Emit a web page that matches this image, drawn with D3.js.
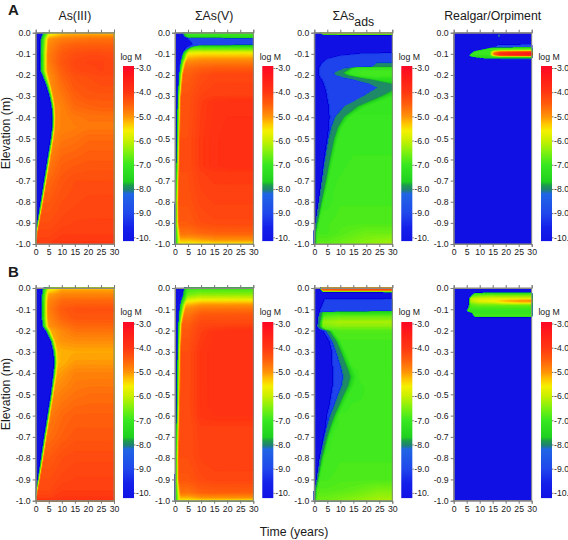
<!DOCTYPE html>
<html><head><meta charset="utf-8">
<script src="https://cdn.jsdelivr.net/npm/d3@7"></script>
<style>html,body{margin:0;padding:0;background:#fff}svg{display:block}
text{font-family:"Liberation Sans",Arial,sans-serif;fill:#1a1a1a}</style></head><body>
<svg id="c" width="568" height="540"></svg>
<script>
// Each row: [depth below surface (m), halo arrival (yr), front arrival (yr), ramp length (yr), log M at each entry of the panel's times]
const N = 60; // never reached in the 30-year window
const stdTimes = [5,10,15,20,25,30];
const a4Times = [5,14,15.5,18,30];
const a1Rows = [
[0,3,3,2.5,-6.2,-5.4,-5.3],[.01,2.6,2.6,2.5,-5.6,-5.2,-5.1],[.03,2.1,2.1,2.8,-5,-4.8,-4.75,-4.7],
[.06,2,2,2.8,-4.9,-4.6,-4.5],[.1,1.9,1.9,2.8,-4.8,-4.45,-4.3,-4.25,-4.25,-4.3],[.14,1.9,1.9,2.8,-4.8,-4.4,-4.2,-4.15,-4.15,-4.2],
[.18,2,2,2.6,-4.9,-4.5,-4.25,-4.2,-4.15,-4.2],[.21,3,3,2,-5,-4.55,-4.35,-4.3,-4.25],[.25,4.3,4.3,1.6,-5,-4.65,-4.4,-4.35,-4.3],
[.3,5.5,5.5,1.3,-5,-4.75,-4.5,-4.4],[.35,6.3,6.3,1.2,-5,-4.85,-4.6,-4.55,-4.5],[.4,6.6,6.6,1,-5,-4.85,-4.75,-4.7],
[.45,6.5,6.5,1,-5,-4.85,-4.8,-4.75],[.5,6,6,1,-5,-4.75,-4.7,-4.6],[.6,4.7,4.7,1,-4.8,-4.55,-4.5,-4.45],
[.7,3.4,3.4,1,-4.6,-4.4,-4.3],[.8,2.1,2.1,1,-4.45,-4.3,-4.25,-4.2],[.9,.8,.8,.8,-4.3,-4.2,-4.15],
[.95,.2,.2,.6,-4.2,-4.1],[1,0,0,.4,-4.1,-4]];
const a2Rows = [
[0,3,3,1.5,-7,-6.9],[.015,3.5,3.5,1.5,-7.1],[.021,4.5,4.5,1,-7.3],[.027,5,N,1,-8],[.055,7,N,1,-8],
[.062,6,9,1,-7.7],[.07,4.5,6,1.2,-7,-6.9],[.08,3.8,4.5,1.5,-6.5],[.09,3.2,3.5,1.8,-6,-5.9],[.1,3,3,2,-5.6,-5.5],
[.12,2.6,2.6,2.2,-5.2,-5.1],[.14,2.2,2.2,2,-4.9,-4.8],[.17,1.9,1.9,1.8,-4.6,-4.5,-4.45],[.2,1.6,1.6,1.6,-4.5,-4.3,-4.2],
[.3,1.1,1.1,1.4,-4.35,-4.15,-4.1],[.33,1,1,1.4,-4.35,-4.1,-3.95,-3.9],[.5,.8,.8,1.3,-4.3,-4.05,-3.9,-3.85],
[.63,.55,.55,1.3,-4.3,-4.05,-3.9,-3.85],[.66,.5,.5,1.3,-4.3,-4.1,-4.05],[.8,.2,.2,1.3,-4.35,-4.2,-4.15],
[.9,.1,.1,1.5,-4.45,-4.3,-4.25],[.95,.05,.05,2,-4.7,-4.6,-4.55],[.98,0,0,2,-5.2,-5.1,-5],[1,0,0,1.5,-5.7,-5.6]];
const a3Rows = [
[0,2.5,2.5,.5,-6.2,-6.1,-6],[.004,2.5,2.5,.5,-6,-5.9],[.008,3.5,3.5,.5,-7.2],[.011,N,N,1,-8],[.09,N,N,1,-8],
[.1,18,N,1,-8],[.11,10,N,1,-8],[.125,5,N,1,-8],[.14,3.5,N,2,-8],[.145,3,24,2,-8],[.163,2.1,22,8,-8],[.167,2,12.5,3,-7.5,-7.5,-7.2,-7],
[.17,1.8,11.5,4,-7,-7,-7],[.19,1.8,7.5,6,-7,-7,-7,-6.9],[.2,2,8.5,7,-7,-7,-7,-6.9],[.21,2.3,11,9,-7.3,-7.3,-7.2,-7.1,-7],[.22,3,15,10,-7.5,-7.5,-7.5,-7.4,-7.3],
[.24,3.8,21,12,-7.5],[.26,4.3,24.5,14,-7.5],[.27,4.6,23,12,-7.4,-7.4,-7.4,-7.4,-7.4,-7.1],[.3,5,19,11,-7.1],[.35,5.8,11.5,8,-7.1],
[.4,6,8,5.5,-7],[.45,5.8,6.6,4,-7],[.5,5.2,5.6,3.5,-7],[.6,4,4.2,3,-7,-7,-6.95],[.7,3,3,2.5,-7,-6.95,-6.9],[.8,1.8,1.8,1.8,-7,-6.9],
[.9,.6,.6,1.2,-6.9,-6.85],[.95,0,.05,1,-6.9,-6.8,-6.7,-6.6],[1,0,0,1,-6.7,-6.6,-6.5,-6.4,-6.3,-6.2]];
const a4Rows = [
[.05,N,N,1,-8],[.06,17,N,1,-8],[.068,16,N,1,-8],[.073,15,14.5,.4,-7],[.085,N,10,.4,-7,-7,-6.7,-6.4,-6.2],
[.088,N,8.5,.4,-7,-7,-6,-5.7,-5.2],[.092,N,7.5,.4,-7,-7,-5.2,-4.5,-4.1],[.098,N,7,.4,-7,-7,-4.6,-3.8,-3.3],[.104,N,6.2,.4,-7,-7,-4.8,-3.8,-3.3],
[.108,N,6,.4,-7.1,-7.1,-6,-5,-4.6],[.113,N,7.5,.4,-7.2,-7.2],[.12,N,12,.4,-7.5],[.123,10,N,1,-8],[.13,N,N,1,-8]];
const b1Rows = [
[0,3,3,2,-6.2,-5.6],[.01,2.7,2.7,2.2,-5.6,-5.1],[.03,2.5,2.5,2.4,-5.1,-4.9],[.06,2.4,2.4,2.4,-4.9,-4.6],
[.1,2.4,2.4,2.4,-4.8,-4.45,-4.35],[.14,2.4,2.4,2.4,-4.9,-4.55,-4.4],[.18,2.8,2.8,2.2,-5,-4.75,-4.6],[.2,4,4,1.8,-5.2,-4.9,-4.7],
[.25,6,6,1.5,-5.3,-5,-4.95],[.3,7,7,1.3,-5.3,-5.2,-5.15],[.35,7.3,7.3,1.2,-5.3,-5.2,-5.05],[.4,7,7,1.2,-5.2,-5.05,-4.85],
[.5,6,6,1,-5,-4.8,-4.7,-4.65],[.6,4.7,4.7,1,-4.8,-4.6,-4.5],[.7,3.4,3.4,1,-4.65,-4.5,-4.4],[.8,2.2,2.2,1,-4.45,-4.3,-4.25],
[.9,1,1,.8,-4.3,-4.2,-4.15],[.95,.4,.4,.6,-4.25,-4.1],[.99,0,0,.4,-4.1,-4],[1,0,0,.4,-3.9]];
const b2Rows = [
[0,3.5,3.5,1.5,-7,-7],[.01,3.3,3.3,1.5,-6.9,-6.8],[.03,3.2,3.2,1.5,-6.6,-6.4],[.045,2.8,2.8,2,-6.2,-6],[.06,2.4,2.4,2.2,-5.7,-5.5],
[.08,2,2,2.2,-5.2,-5],[.1,1.8,1.8,2.2,-4.9,-4.7],[.13,1.5,1.5,2,-4.7,-4.4],[.17,1.3,1.3,1.6,-4.5,-4.2],[.21,1.2,1.2,1.5,-4.4,-4.1,-3.95,-3.9],
[.3,1,1,1.4,-4.3,-4,-3.9],[.55,.75,.75,1.3,-4.3,-4,-3.9],[.6,.65,.65,1.3,-4.3,-4,-3.95],[.65,.55,.55,1.3,-4.3,-4.1],
[.8,.3,.3,1.3,-4.3,-4.15,-4.1],[.9,.15,.15,1.5,-4.4,-4.25,-4.2],[.96,.05,.05,2,-4.7,-4.5],[.985,0,0,2,-5.2,-5],[1,0,0,1.5,-5.7,-5.6]];
const b3Rows = [
[0,2.2,2.2,.5,-4.8],[.004,2.3,2.3,.5,-4.4,-4.3,-4.2],[.008,2.5,2.5,.5,-4.5,-4.3],[.012,2.8,2.8,.5,-5.5],[.016,3,3,.5,-7],[.02,N,N,1,-8],
[.05,N,N,1,-8],[.055,4,N,1,-8],[.1,2.5,N,1,-8],[.105,2.5,N,1,-8],[.115,2.2,2.2,1.5,-7.3],[.13,1.8,1.8,2,-6.8,-6.7],
[.16,1.4,1.4,2,-6.3,-6.2],[.18,1.3,1.3,2,-6.5,-6.4],[.19,1.5,2,2,-6.7,-6.6],[.2,3.5,4.5,2.5,-6.9,-6.8],[.25,6,7,3,-7,-6.9],
[.3,7,8.5,3.5,-7,-6.9],[.35,7,9.8,4,-7.1,-7,-6.9],[.39,7.3,10.8,4.5,-7.1,-7.1,-7,-6.9],[.42,7.3,11.2,5,-7.1,-7.1,-7,-6.9],[.46,7.2,10.6,4.5,-7.1,-7.1,-7,-6.95],
[.5,6.7,9.3,4,-7,-7,-7,-6.95],[.55,6,7.8,3.5,-7,-7,-6.95],[.6,5,6.2,3,-7,-6.95],[.65,4.6,5,2.5,-7,-6.95],[.7,3.8,4,2,-7,-6.9],
[.8,2.2,2.2,1.5,-6.95,-6.9],[.9,1,1,1,-6.9,-6.85],[.95,.2,.2,1,-6.8,-6.75,-6.7,-6.6,-6.5],[1,0,0,1,-6.6,-6.5,-6.4,-6.3,-6.2]];
const b4Rows = [
[.02,N,N,1,-8],[.025,N,8,.4,-7.3],[.035,N,7,.4,-7,-6.6,-6.5],[.05,N,6,.4,-6.2,-5.9,-5.8],[.06,N,6,.4,-6.3,-5.7,-5.6,-5.2,-5,-4.9],
[.065,N,6,.4,-6.4,-5.9,-5.8,-5.4,-5.2],[.08,N,6,.4,-6.8,-6.6],[.1,N,5.5,.4,-7],[.105,N,5,.4,-7],[.11,N,5.5,.4,-7.1],[.115,N,7,.4,-7.1],
[.125,N,7.5,.4,-6.9],[.134,N,8,.4,-7],[.137,N,N,1,-8]];
const a4Speck = [[17.4,.014,-8.1]];
const yTicks = [0,-.1,-.2,-.3,-.4,-.5,-.6,-.7,-.8,-.9,-1];
const xTicks = [0,5,10,15,20,25,30];
const barTicks = [-3,-4,-5,-6,-7,-8,-9,-10];
const barLabels = ["-3.0","-4.0","-5.0","-6.0","-7.0","-8.0","-9.0","-10."];
const colorStops = [-10.3,-9.6,-9,-8.2,-8.05,-7.85,-7.7,-7,-6.5,-6,-5.6,-5.3,-5,-4.5,-4,-3.4,-3];
const colorValues = ["#1010e4","#1420ea","#2048ec","#2066e4","#1f7f78","#1c9c4c","#1fd020","#38e820","#7cf010","#c8f000","#f4f000","#ffc400","#ff9208","#ff5e0c","#ff3612","#ff1c18","#ff0a24"];
const panelTitles = ["As(III)","ΣAs(V)","ΣAs","Realgar/Orpiment"];
const rowLabels = ["A","B"];

const color = d3.scaleLinear().domain(colorStops).range(colorValues).clamp(true);
const svg = d3.select("#c");
const cols = [[35.7,114,123,134],[175,253.3,262.3,273.3],[314.3,392.3,401.3,412.3],[453.7,531.7,541,552]];
const rowsGeom = [{top:32.7,bot:244,barTop:66.7,barBot:241,tick3:68},{top:288,bot:500.7,barTop:322,barBot:497.7,tick3:323.5}];
// rows, times, halo level, column, row, specks, share of the ramp held at -8
const panels = [
 [a1Rows,stdTimes,-9.3,0,0,[],0],[a2Rows,stdTimes,-9.0,1,0,[],0],[a3Rows,stdTimes,-9.1,2,0,[],.55],[a4Rows,a4Times,-8.8,3,0,a4Speck,0],
 [b1Rows,stdTimes,-9.3,0,1,[],0],[b2Rows,stdTimes,-9.3,1,1,[],0],[b3Rows,stdTimes,-9.1,2,1,[],.45],[b4Rows,stdTimes,-9.3,3,1,[],0]];

function expand(rows,times){return rows.map(r=>{
  const lv=r.slice(4);while(lv.length<times.length)lv.push(lv[lv.length-1]);
  return [r[0],r[1],r[2],r[3],...lv];});}

function field(rows,times,halo,hold){
  const R=expand(rows,times),ds=R.map(r=>r[0]);
  return (t,d)=>{
    let i=d3.bisectRight(ds,d)-1;
    if(i<0) return -10.3;
    if(i>=R.length-1 && d>ds[ds.length-1]) return -10.3;
    i=Math.min(i,R.length-2);
    const a=Math.min(1,(d-ds[i])/(ds[i+1]-ds[i]));
    const A=R[i],B=R[i+1],m=k=>A[k]+(B[k]-A[k])*a;
    const hl=m(1),fr=m(2),w=m(3);
    const lev=u=>{
      if(u<=times[0])return m(4);
      for(let k=1;k<times.length;k++) if(u<=times[k]){
        const p=(u-times[k-1])/(times[k]-times[k-1]);
        return m(3+k)+(m(4+k)-m(3+k))*p;}
      return m(3+times.length);};
    if(t<fr){
      if(t<hl) return -10.3;
      return halo;
    }
    const tau=t-fr;
    if(tau<w){const target=lev(fr+w),q=tau/w;return -8+(target+8)*Math.max(0,(q-hold)/(1-hold));}
    return lev(t);
  };
}

const thresholds=d3.range(-10.25,-2.9,0.07);
panels.forEach(([rows,times,halo,c,r,specks,hold])=>{
  const [x0,x1,bx0,bx1]=cols[c],g=rowsGeom[r];
  const x=d3.scaleLinear().domain([0,30]).range([x0,x1]);
  const y=d3.scaleLinear().domain([0,-1]).range([g.top,g.bot]);
  const nx=Math.round(x1-x0),ny=Math.round((g.bot-g.top)*2);
  const f=field(rows,times,halo,hold),vals=new Float64Array(nx*ny);
  for(let j=0;j<ny;j++)for(let i=0;i<nx;i++)vals[j*nx+i]=f((i+.5)/nx*30,(j+.5)/ny);
  const path=d3.geoPath(d3.geoTransform({point(px,py){this.stream.point(x(px/nx*30),y(-py/ny));}}));
  const p=svg.append("g");
  p.append("rect").attr("x",x0).attr("y",g.top).attr("width",x1-x0).attr("height",g.bot-g.top).attr("fill",color(-10.3));
  const cs=d3.contours().size([nx,ny]).thresholds(thresholds)(Array.from(vals));
  p.selectAll("path").data(cs.filter(d=>d.coordinates.length)).join("path")
    .attr("d",path).attr("fill",d=>color(d.value+.035)).attr("stroke",d=>color(d.value+.035)).attr("stroke-width",.2);
  p.selectAll("rect.s").data(specks).join("rect").attr("class","s")
    .attr("x",d=>x(d[0])-1).attr("y",d=>y(-d[1])-1).attr("width",2).attr("height",2).attr("fill",d=>color(d[2]));
  // frame + axes
  p.append("rect").attr("x",x0).attr("y",g.top).attr("width",x1-x0).attr("height",g.bot-g.top)
    .attr("fill","none").attr("stroke","#8a8a80").attr("stroke-width",1);
  const style=a=>{a.select(".domain").attr("stroke","#8a8a80");a.selectAll("line").attr("stroke","#777");
    a.selectAll("text").attr("font-size",8.7).attr("font-family",'"Liberation Sans",Arial,sans-serif').attr("fill","#1a1a1a");};
  svg.append("g").attr("transform",`translate(${x0},0)`).call(d3.axisLeft(y).tickValues(yTicks).tickSize(3).tickPadding(2).tickFormat(d=>d.toFixed(1).replace("-0.0","0.0"))).call(style);
  svg.append("g").attr("transform",`translate(0,${g.bot})`).call(d3.axisBottom(x).tickValues(xTicks).tickSize(3).tickPadding(2).tickFormat(d=>d)).call(style);
  svg.append("g").attr("transform",`translate(0,${g.top})`).call(d3.axisTop(x).tickValues(xTicks).tickSize(3).tickFormat("")).call(style);
  // colour bar
  const by=d3.scaleLinear().domain([-3,-10]).range([g.tick3,g.tick3+169.3]);
  const lv=d3.range(Math.floor(g.barTop),Math.ceil(g.barBot),1);
  svg.append("g").selectAll("rect").data(lv).join("rect")
    .attr("x",bx0).attr("y",d=>d).attr("width",bx1-bx0).attr("height",1.1).attr("fill",d=>color(by.invert(d+.5)));
  svg.append("g").attr("transform",`translate(${bx1},0)`).call(d3.axisRight(by).tickValues(barTicks).tickSize(1.5).tickPadding(.5).tickFormat((d,i)=>barLabels[i])).call(a=>{style(a);a.select(".domain").remove();});
  svg.append("text").attr("x",(bx0+bx1)/2+2.5).attr("y",g.barTop-7).attr("text-anchor","middle").attr("font-size",8.7).text("log M");
  if(r===0){
    const t=svg.append("text").attr("x",(x0+x1)/2).attr("y",20).attr("text-anchor","middle").attr("font-size",12.3).text(panelTitles[c]);
    if(c===2) t.append("tspan").attr("dy",6).text("ads");
  }
});
rowLabels.forEach((l,i)=>{
  svg.append("text").attr("x",8).attr("y",i?277:15).attr("font-size",15).attr("font-weight","bold").attr("fill","#000").text(l);
  svg.append("text").attr("transform",`translate(10,${i?394:133}) rotate(-90)`).attr("text-anchor","middle").attr("font-size",12.3).text("Elevation (m)");
});
svg.append("text").attr("x",294).attr("y",536).attr("text-anchor","middle").attr("font-size",12.3).text("Time (years)");
</script></body></html>
